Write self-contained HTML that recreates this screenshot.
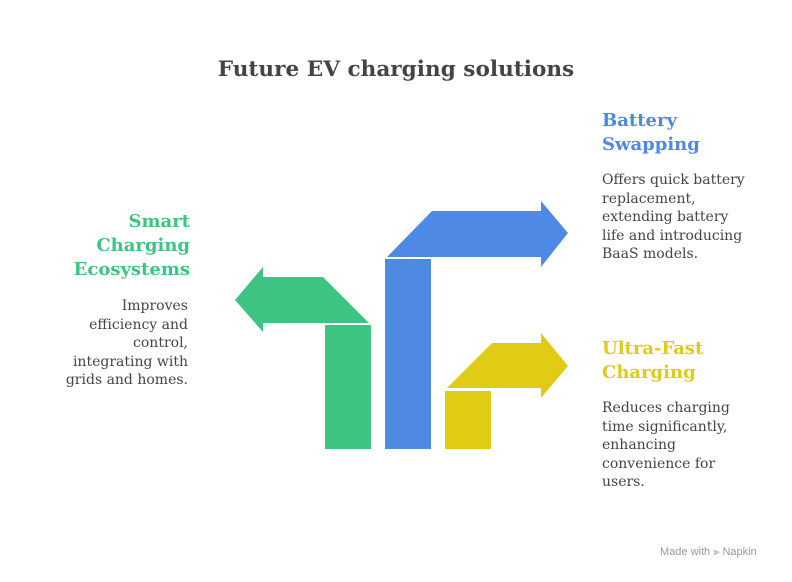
<!DOCTYPE html>
<html><head><meta charset="utf-8"><style>
body{margin:0;width:792px;height:582px;background:#fff;position:relative;overflow:hidden;font-family:"DejaVu Serif",serif;}
.t{position:absolute;white-space:nowrap}
h1{position:absolute;left:0;width:792px;top:57px;margin:0;text-align:center;font-size:21.6px;font-weight:bold;color:#444;font-family:"DejaVu Serif",serif}
.hd{font-size:18px;font-weight:bold;line-height:24px}
.bd{font-size:14px;color:#444;line-height:18.5px}
</style></head><body>
<h1>Future EV charging solutions</h1>
<svg width="792" height="582" style="position:absolute;left:0;top:0">
<polygon fill="#3EC482" points="235,300 263,267 263,277 323,277 369,323 263,323 263,332"/>
<rect fill="#3EC482" x="325" y="325" width="46" height="124"/>
<polygon fill="#4E89E4" points="387,257 432,211 541,211 541,201 568,233 541,267 541,257"/>
<rect fill="#4E89E4" x="385" y="259" width="46" height="190"/>
<polygon fill="#E0CB15" points="447,388 492,343 541,343 541,333 568,366 541,398 541,388"/>
<rect fill="#E0CB15" x="445" y="391" width="46" height="58"/>
</svg>
<div class="t hd" style="right:602px;top:210px;text-align:right;color:#3EC482">Smart<br>Charging<br>Ecosystems</div>
<div class="t bd" style="right:604px;top:297px;text-align:right">Improves<br>efficiency and<br>control,<br>integrating with<br>grids and homes.</div>
<div class="t hd" style="left:602px;top:109px;color:#4E89E4">Battery<br>Swapping</div>
<div class="t bd" style="left:602px;top:171px">Offers quick battery<br>replacement,<br>extending battery<br>life and introducing<br>BaaS models.</div>
<div class="t hd" style="left:602px;top:337px;color:#E0CB15">Ultra-Fast<br>Charging</div>
<div class="t bd" style="left:602px;top:399px">Reduces charging<br>time significantly,<br>enhancing<br>convenience for<br>users.</div>
<div class="t" style="left:660px;top:546px;font-family:'Liberation Sans',sans-serif;font-size:11px;color:#999">Made with ⫸ Napkin</div>
</body></html>
